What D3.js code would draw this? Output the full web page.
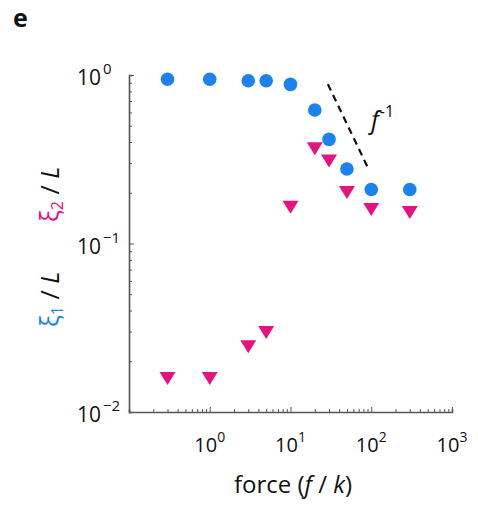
<!DOCTYPE html>
<html>
<head>
<meta charset="utf-8">
<script src="https://cdn.jsdelivr.net/npm/d3@7"></script>
<style>
  html, body { margin: 0; padding: 0; background: #fff; }
  svg { display: block; font-family: "Open Sans", "DejaVu Sans", sans-serif; }
</style>
</head>
<body>
<svg id="chart" width="478" height="511"></svg>
<script>
// Force values (f/k) at which the two lengths were measured
const force = [0.3, 1, 3, 5, 10, 20, 30, 50, 100, 300];
// ξ1 / L (blue circles)
const xi1 = [0.943, 0.943, 0.925, 0.925, 0.88, 0.62, 0.415, 0.277, 0.209, 0.209];
// ξ2 / L (pink triangles)
const xi2 = [0.0158, 0.0158, 0.0244, 0.0296, 0.164, 0.365, 0.309, 0.201, 0.159, 0.153];
// Reference power law f^-1 (prefactor and force span of the guide line)
const guideC = 25.6;
const guideForce = [29, 92];
// Decade tick exponents
const xExp = [0, 1, 2, 3];
const yExp = [0, -1, -2];

const blue = "#1c82ee";
const pink = "#e6127d";
const axisColor = "#555";

const svg = d3.select("#chart");

const x = d3.scaleLog().domain([0.1, 1000]).range([129, 452]);
const y = d3.scaleLog().domain([0.01, 1]).range([412, 75]);

// Panel letter
svg.append("text")
  .attr("x", 13).attr("y", 27)
  .attr("font-size", 25).attr("font-weight", "bold")
  .attr("fill", "#111")
  .text("e");

// Axes with inward minor ticks
const minorX = [];
for (let e = -1; e < 3; e++) for (let m = 1; m <= 9; m++) minorX.push(m * Math.pow(10, e));
minorX.push(1000);
const minorY = [];
for (let e = -2; e < 0; e++) for (let m = 1; m <= 9; m++) minorY.push(m * Math.pow(10, e));
minorY.push(1);

const isDecade = d => Math.abs(Math.log10(d) - Math.round(Math.log10(d))) < 1e-9;

const xAxis = d3.axisBottom(x).tickValues(minorX).tickSize(-3).tickFormat("");
const gx = svg.append("g").attr("transform", `translate(0,${y(0.01)})`).call(xAxis);
gx.selectAll("line").filter(isDecade).attr("y2", -5);

const yAxis = d3.axisLeft(y).tickValues(minorY).tickSize(-3).tickFormat("");
const gy = svg.append("g").attr("transform", `translate(${x(0.1)},0)`).call(yAxis);
gy.selectAll("line").filter(isDecade).attr("x2", 5);

[gx, gy].forEach(g => {
  g.select(".domain").attr("stroke", axisColor).attr("stroke-width", 1.6);
  g.selectAll(".tick line").attr("stroke", axisColor).attr("stroke-width", 1);
});

// x tick labels (10^n)
xExp.forEach(e => {
  const t = svg.append("text")
    .attr("x", x(Math.pow(10, e))).attr("y", 452)
    .attr("text-anchor", "middle")
    .attr("font-size", 20).attr("fill", "#111");
  t.append("tspan").text("10");
  t.append("tspan").attr("dy", -10).attr("font-size", 14).text(String(e));
});

// y tick labels (10^n)
yExp.forEach(e => {
  const t = svg.append("text")
    .attr("x", 77).attr("y", y(Math.pow(10, e)) + 10)
    .attr("font-size", 21).attr("fill", "#111");
  t.append("tspan").text("10");
  t.append("tspan").attr("dy", -11).attr("dx", 2).attr("font-size", 15)
    .text(e === 0 ? "0" : "\u2212" + Math.abs(e));
});

// Axis titles
const xt = svg.append("text")
  .attr("x", 293).attr("y", 493)
  .attr("text-anchor", "middle")
  .attr("font-size", 24).attr("fill", "#111");
xt.append("tspan").text("force (");
xt.append("tspan").attr("font-style", "italic").text("f");
xt.append("tspan").text(" / ");
xt.append("tspan").attr("font-style", "italic").text("k");
xt.append("tspan").text(")");

function yTitle(y0, sub, color) {
  const t = svg.append("text")
    .attr("transform", `translate(59,${y0}) rotate(-90)`)
    .attr("font-size", 25).attr("fill", "#111");
  t.append("tspan").attr("fill", color).text("\u03be");
  t.append("tspan").attr("fill", color).attr("font-size", 16).attr("dy", 4).text(sub);
  t.append("tspan").attr("dy", -4).text(" / ");
  t.append("tspan").attr("font-style", "italic").text("L");
}
yTitle(327, "1", blue);
yTitle(222, "2", pink);

// Guide line f^-1
const line = d3.line().x(d => x(d)).y(d => y(guideC / d));
svg.append("path")
  .attr("d", line(guideForce))
  .attr("fill", "none").attr("stroke", "#111")
  .attr("stroke-width", 2.2).attr("stroke-dasharray", "7,5");

const gl = svg.append("text")
  .attr("x", 371).attr("y", 129)
  .attr("font-size", 25).attr("fill", "#111");
gl.append("tspan").attr("font-style", "italic").text("f");
gl.append("tspan").attr("dy", -12).attr("dx", 1).attr("font-size", 16).text("-1");

// ξ1 markers
svg.append("g").selectAll("circle")
  .data(force.map((f, i) => [f, xi1[i]]))
  .join("circle")
  .attr("cx", d => x(d[0])).attr("cy", d => y(d[1]))
  .attr("r", 6.8).attr("fill", blue);

// ξ2 markers (downward triangles)
svg.append("g").selectAll("path")
  .data(force.map((f, i) => [f, xi2[i]]))
  .join("path")
  .attr("d", "M-8,-6.5L8,-6.5L0,6.5Z")
  .attr("transform", d => `translate(${x(d[0])},${y(d[1])})`)
  .attr("fill", pink);
</script>
</body>
</html>
